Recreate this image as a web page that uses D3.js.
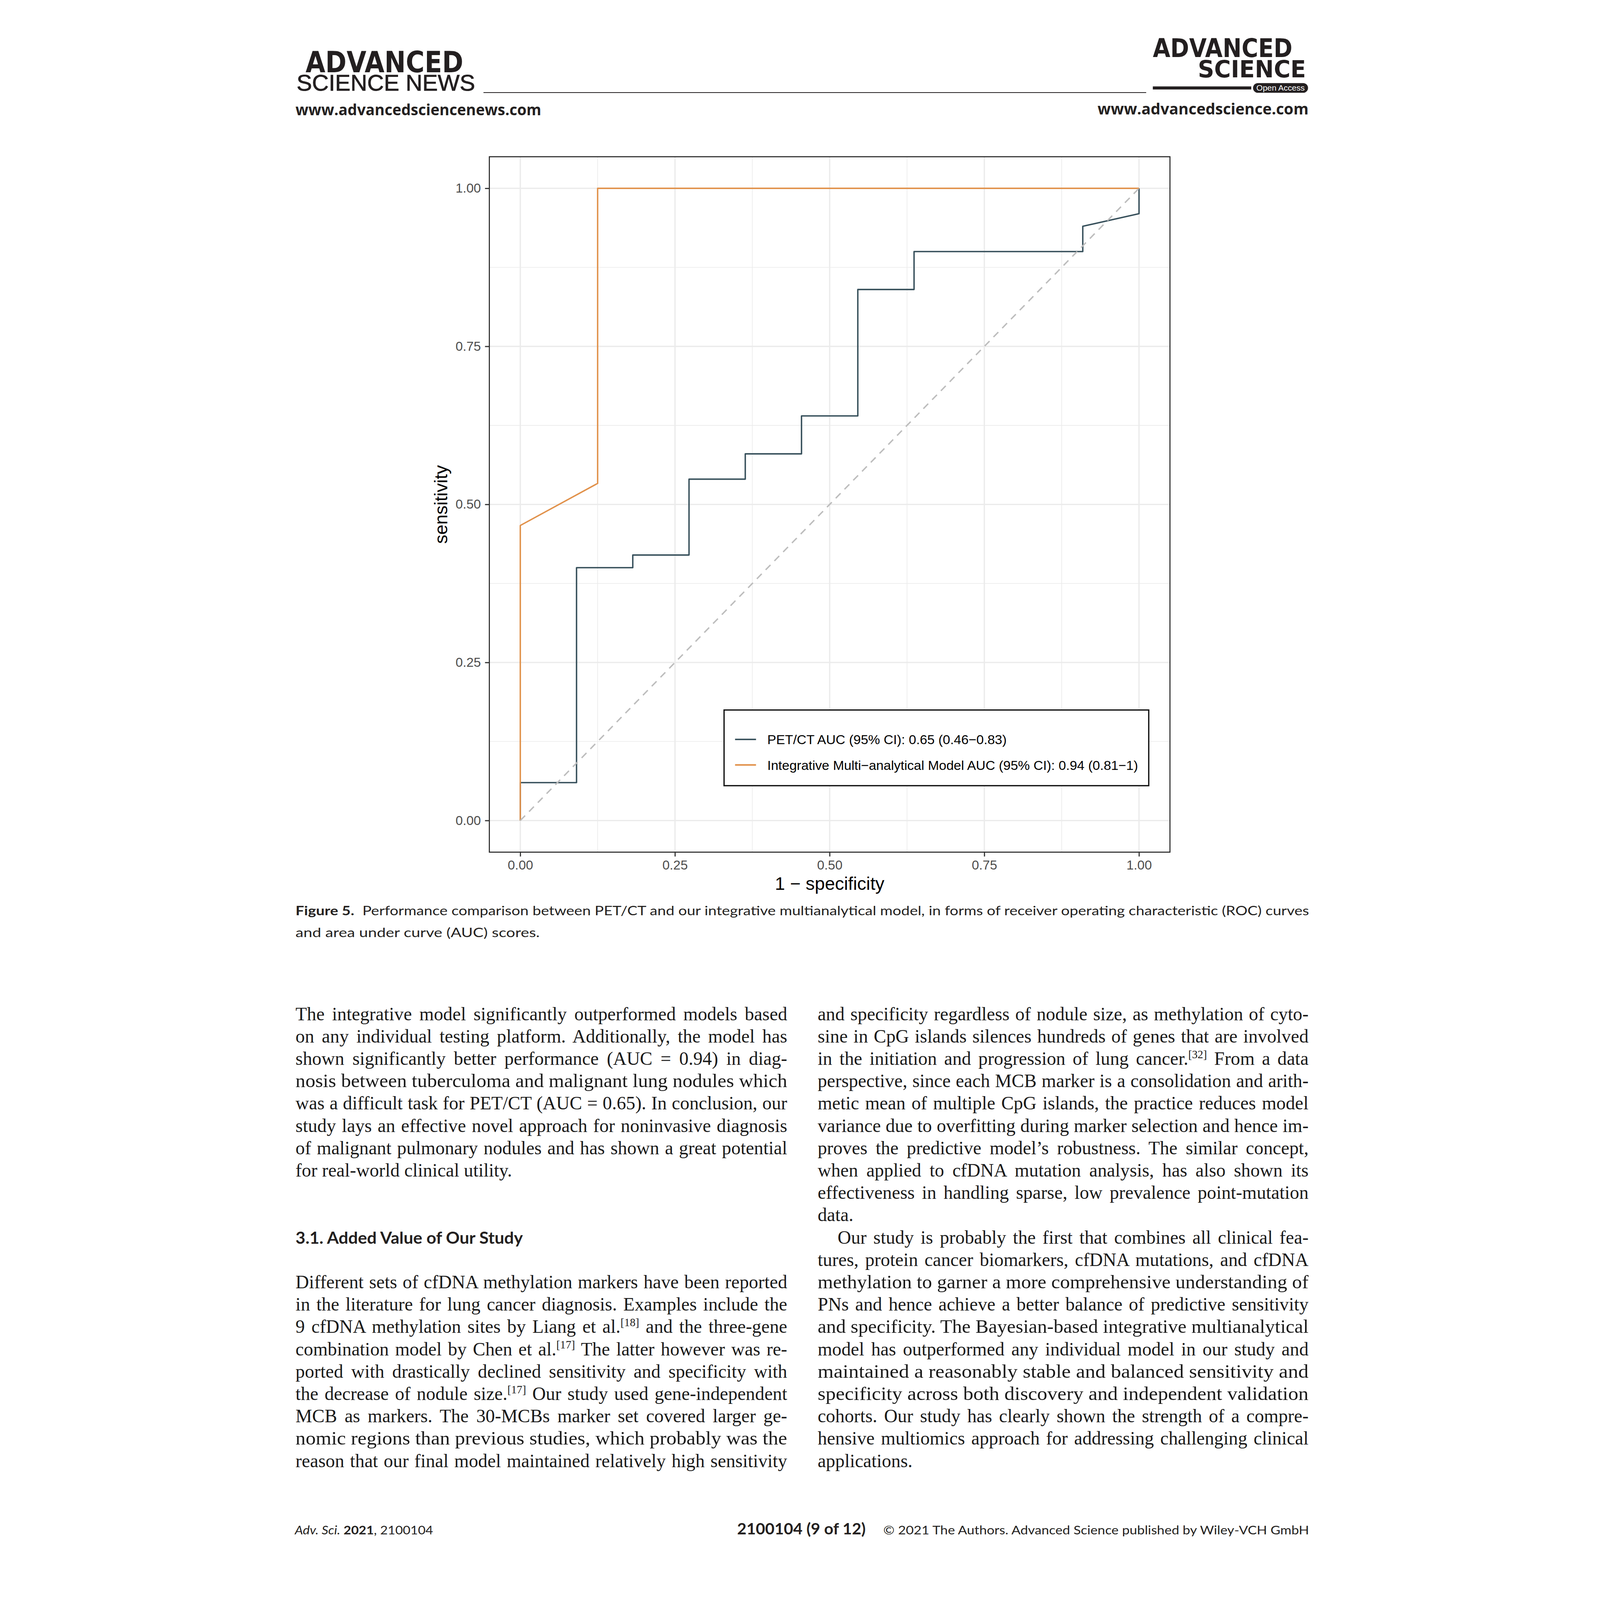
<!DOCTYPE html>
<html><head><meta charset="utf-8">
<script src="https://cdn.jsdelivr.net/npm/d3@7"></script>
<style>html,body{margin:0;padding:0;background:#fff;overflow:hidden;} svg{display:block;width:100vw;height:100vh}</style>
</head><body>
<svg id="page" viewBox="0 0 4762 6258" preserveAspectRatio="xMidYMin meet"></svg>
<script>
// ---------------- DATA ----------------
const seriesNames = ["PET/CT AUC (95% CI): 0.65 (0.46\u22120.83)",
                     "Integrative Multi\u2212analytical Model AUC (95% CI): 0.94 (0.81\u22121)"];
const seriesColors = ["#37505B", "#E1914A"];
const petFpr = [0, 0, 0.0909, 0.0909, 0.1818, 0.1818, 0.2727, 0.2727, 0.3636, 0.3636, 0.4545, 0.4545, 0.5455, 0.5455, 0.6364, 0.6364, 0.9091, 0.9091, 1, 1];
const petTpr = [0, 0.06, 0.06, 0.40, 0.40, 0.42, 0.42, 0.54, 0.54, 0.58, 0.58, 0.64, 0.64, 0.84, 0.84, 0.90, 0.90, 0.94, 0.96, 1];
const modelFpr = [0, 0, 0.125, 0.125, 1];
const modelTpr = [0, 0.4667, 0.5333, 1, 1];
const diagonal = [[0, 0], [1, 1]];
const xTicks = [0, 0.25, 0.5, 0.75, 1];
const yTicks = [0, 0.25, 0.5, 0.75, 1];
const minorBreaks = [0.125, 0.375, 0.625, 0.875];
const xTitle = "1 \u2212 specificity";
const yTitle = "sensitivity";

const captionBold = "Figure 5.";
const captionLine1 = "Performance comparison between PET/CT and our integrative multianalytical model, in forms of receiver operating characteristic (ROC) curves";
const captionLine2 = "and area under curve (AUC) scores.";

const leftColumn = [
  "The integrative model significantly outperformed models based",
  "on any individual testing platform. Additionally, the model has",
  "shown significantly better performance (AUC = 0.94) in diag-",
  "nosis between tuberculoma and malignant lung nodules which",
  "was a difficult task for PET/CT (AUC = 0.65). In conclusion, our",
  "study lays an effective novel approach for noninvasive diagnosis",
  "of malignant pulmonary nodules and has shown a great potential",
  "for real-world clinical utility."
];
const sectionHeading = "3.1. Added Value of Our Study";
const leftColumn2 = [
  "Different sets of cfDNA methylation markers have been reported",
  "in the literature for lung cancer diagnosis. Examples include the",
  "9 cfDNA methylation sites by Liang et al.^[18]^ and the three-gene",
  "combination model by Chen et al.^[17]^ The latter however was re-",
  "ported with drastically declined sensitivity and specificity with",
  "the decrease of nodule size.^[17]^ Our study used gene-independent",
  "MCB as markers. The 30-MCBs marker set covered larger ge-",
  "nomic regions than previous studies, which probably was the",
  "reason that our final model maintained relatively high sensitivity"
];
const rightColumn = [
  "and specificity regardless of nodule size, as methylation of cyto-",
  "sine in CpG islands silences hundreds of genes that are involved",
  "in the initiation and progression of lung cancer.^[32]^ From a data",
  "perspective, since each MCB marker is a consolidation and arith-",
  "metic mean of multiple CpG islands, the practice reduces model",
  "variance due to overfitting during marker selection and hence im-",
  "proves the predictive model\u2019s robustness. The similar concept,",
  "when applied to cfDNA mutation analysis, has also shown its",
  "effectiveness in handling sparse, low prevalence point-mutation",
  "data."
];
const rightColumn2 = [
  "Our study is probably the first that combines all clinical fea-",
  "tures, protein cancer biomarkers, cfDNA mutations, and cfDNA",
  "methylation to garner a more comprehensive understanding of",
  "PNs and hence achieve a better balance of predictive sensitivity",
  "and specificity. The Bayesian-based integrative multianalytical",
  "model has outperformed any individual model in our study and",
  "maintained a reasonably stable and balanced sensitivity and",
  "specificity across both discovery and independent validation",
  "cohorts. Our study has clearly shown the strength of a compre-",
  "hensive multiomics approach for addressing challenging clinical",
  "applications."
];

// ---------------- HELPERS ----------------
const svg = d3.select("#page");
svg.append("rect").attr("width", 4762).attr("height", 6258).attr("fill", "#fff");

function parseSup(str) {
  return str.split("^").map((p, i) => ({t: p, sup: i % 2 === 1})).filter(s => s.t);
}
function rich(parent, segs, xPos, yPos, o) {
  const t = parent.append("text").attr("x", xPos).attr("y", yPos)
    .attr("font-family", o.font).attr("font-size", o.size)
    .attr("fill", o.fill || "#1a1a1a");
  if (o.weight) t.attr("font-weight", o.weight);
  if (o.style) t.attr("font-style", o.style);
  if (o.anchor) t.attr("text-anchor", o.anchor);
  if (o.stroke) t.attr("stroke", o.fill || "#1a1a1a").attr("stroke-width", o.stroke);
  let cur = 0;
  segs.forEach(s => {
    const ts = t.append("tspan").text(s.t);
    const target = s.sup ? -0.36 * o.size : 0;
    if (target !== cur) { ts.attr("dy", target - cur); cur = target; }
    if (s.sup) ts.attr("font-size", o.size * 0.6);
    if (s.weight) ts.attr("font-weight", s.weight);
    if (s.style) ts.attr("font-style", s.style);
    if (s.dx) ts.attr("dx", s.dx);
  });
  if (o.width) {
    const full = segs.map(s => s.t).join("");
    const L = t.node().getComputedTextLength();
    const n = (full.match(/ /g) || []).length;
    const ws = n > 0 ? (o.width - L) / n : 0;
    if (o.justify && n > 0 && ws > -0.08 * o.size && ws < 0.2 * o.size) {
      t.style("word-spacing", ws + "px");
    } else {
      t.attr("textLength", o.width).attr("lengthAdjust", "spacingAndGlyphs");
    }
  }
  return t;
}

// ---------------- HEADER ----------------
const hdr = svg.append("g");
rich(hdr, [{t: "ADVANCED"}], 447, 282, {font: "DejaVu Sans", size: 115, weight: "bold", width: 617, fill: "#231f20"});
rich(hdr, [{t: "SCIENCE NEWS"}], 412, 355, {font: "Liberation Sans", size: 87, width: 698, fill: "#231f20", stroke: 1.5});
hdr.append("line").attr("x1", 1143).attr("x2", 3735).attr("y1", 362).attr("y2", 362)
  .attr("stroke", "#231f20").attr("stroke-width", 3);
rich(hdr, [{t: "www.advancedsciencenews.com"}], 408, 450, {font: "Open Sans", size: 60, weight: "bold", width: 961, fill: "#231f20"});

rich(hdr, [{t: "ADVANCED"}], 3761, 223, {font: "DejaVu Sans", size: 100, weight: "bold", width: 546, fill: "#231f20"});
rich(hdr, [{t: "SCIENCE"}], 3937, 302, {font: "DejaVu Sans", size: 92, weight: "bold", width: 423, fill: "#231f20"});
hdr.append("rect").attr("x", 3761).attr("y", 338).attr("width", 385).attr("height", 12).attr("fill", "#231f20");
hdr.append("rect").attr("x", 4153).attr("y", 325).attr("width", 215).attr("height", 38).attr("rx", 19).attr("fill", "#231f20");
rich(hdr, [{t: "Open Access"}], 4166, 355, {font: "Liberation Sans", size: 30, width: 189, fill: "#fff"});
rich(hdr, [{t: "www.advancedscience.com"}], 3545, 448, {font: "Open Sans", size: 60, weight: "bold", width: 825, fill: "#231f20"});

// ---------------- CHART ----------------
const P = {left: 1166, right: 3828, top: 613, bottom: 3333};
const x = d3.scaleLinear().domain([-0.05, 1.05]).range([P.left, P.right]);
const y = d3.scaleLinear().domain([-0.05, 1.05]).range([P.bottom, P.top]);
const chart = svg.append("g");
chart.append("rect").attr("x", P.left).attr("y", P.top).attr("width", P.right - P.left)
  .attr("height", P.bottom - P.top).attr("fill", "#fff");

const grid = chart.append("g").attr("stroke", "#ebebeb");
grid.selectAll(".vmin").data(minorBreaks).join("line").attr("class", "vmin")
  .attr("x1", d => x(d)).attr("x2", d => x(d)).attr("y1", P.top).attr("y2", P.bottom).attr("stroke-width", 2.5);
grid.selectAll(".hmin").data(minorBreaks).join("line").attr("class", "hmin")
  .attr("y1", d => y(d)).attr("y2", d => y(d)).attr("x1", P.left).attr("x2", P.right).attr("stroke-width", 2.5);
grid.selectAll(".vmaj").data(xTicks).join("line").attr("class", "vmaj")
  .attr("x1", d => x(d)).attr("x2", d => x(d)).attr("y1", P.top).attr("y2", P.bottom).attr("stroke-width", 5);
grid.selectAll(".hmaj").data(yTicks).join("line").attr("class", "hmaj")
  .attr("y1", d => y(d)).attr("y2", d => y(d)).attr("x1", P.left).attr("x2", P.right).attr("stroke-width", 5);

const line = d3.line().x(d => x(d[0])).y(d => y(d[1]));
const series = [d3.zip(petFpr, petTpr), d3.zip(modelFpr, modelTpr)];
chart.selectAll(".roc").data(series).join("path").attr("class", "roc")
  .attr("d", line).attr("fill", "none").attr("stroke", (d, i) => seriesColors[i])
  .attr("stroke-width", 5.5).attr("stroke-linejoin", "round");
chart.append("path").attr("d", line(diagonal)).attr("fill", "none")
  .attr("stroke", "#bdbdbd").attr("stroke-width", 5.5).attr("stroke-dasharray", "27,22");

chart.append("rect").attr("x", P.left).attr("y", P.top).attr("width", P.right - P.left)
  .attr("height", P.bottom - P.top).attr("fill", "none").attr("stroke", "#222").attr("stroke-width", 4);

const axisFont = "Liberation Sans, Arial, Helvetica, sans-serif";
const gx = chart.append("g").attr("transform", `translate(0,${P.bottom})`)
  .call(d3.axisBottom(x).tickValues(xTicks).tickFormat(d3.format(".2f")).tickSize(17).tickPadding(15));
const gy = chart.append("g").attr("transform", `translate(${P.left},0)`)
  .call(d3.axisLeft(y).tickValues(yTicks).tickFormat(d3.format(".2f")).tickSize(17).tickPadding(16));
[gx, gy].forEach(ga => {
  ga.attr("font-size", 51).attr("font-family", axisFont);
  ga.select(".domain").remove();
  ga.selectAll(".tick line").attr("stroke", "#333").attr("stroke-width", 4.5);
  ga.selectAll(".tick text").attr("fill", "#4d4d4d");
});

chart.append("text").attr("x", (P.left + P.right) / 2).attr("y", 3480).attr("text-anchor", "middle")
  .attr("font-family", axisFont).attr("font-size", 71).attr("fill", "#000").text(xTitle);
chart.append("text").attr("transform", `translate(1002,${(P.top + P.bottom) / 2}) rotate(-90)`)
  .attr("text-anchor", "middle").attr("font-family", axisFont).attr("font-size", 71).attr("fill", "#000").text(yTitle);

// legend
const lg = chart.append("g");
lg.append("rect").attr("x", 2084).attr("y", 2777).attr("width", 1661).attr("height", 296)
  .attr("fill", "#fff").attr("stroke", "#111").attr("stroke-width", 5);
const legendRows = [2892, 2992];
lg.selectAll(".key").data(seriesNames).join("line").attr("class", "key")
  .attr("x1", 2127).attr("x2", 2209).attr("y1", (d, i) => legendRows[i]).attr("y2", (d, i) => legendRows[i])
  .attr("stroke", (d, i) => seriesColors[i]).attr("stroke-width", 6);
lg.selectAll(".lt").data(seriesNames).join("text").attr("class", "lt")
  .attr("x", 2253).attr("y", (d, i) => legendRows[i] + 19)
  .attr("font-family", axisFont).attr("font-size", 52).attr("fill", "#000").text(d => d);

// ---------------- CAPTION ----------------
const cap = svg.append("g");
const capFont = "Lato, 'Open Sans', sans-serif";
rich(cap, [{t: captionBold, weight: "bold"}, {t: " " + captionLine1, dx: 14}], 408, 3580,
  {font: capFont, size: 50, width: 3964, justify: true, fill: "#231f20"});
rich(cap, [{t: captionLine2}], 408, 3665, {font: capFont, size: 50, width: 955, fill: "#231f20"});

// ---------------- BODY ----------------
const body = svg.append("g");
const bodyFont = "'Liberation Serif', 'Times New Roman', serif";
const B0 = 3990, PITCH = 87.4, LX = 408, LW = 1923, RX = 2450, RW = 1920, BS = 73;
leftColumn.forEach((s, i) => {
  rich(body, parseSup(s), LX, B0 + i * PITCH, {font: bodyFont, size: BS,
    width: i === leftColumn.length - 1 ? null : LW, justify: true});
});
rich(body, [{t: sectionHeading}], LX, B0 + 10 * PITCH, {font: capFont, size: 63, weight: "bold", width: 889, fill: "#231f20"});
leftColumn2.forEach((s, i) => {
  rich(body, parseSup(s), LX, B0 + (12 + i) * PITCH, {font: bodyFont, size: BS, width: LW, justify: true});
});
rightColumn.forEach((s, i) => {
  rich(body, parseSup(s), RX, B0 + i * PITCH, {font: bodyFont, size: BS,
    width: i === rightColumn.length - 1 ? null : RW, justify: true});
});
rightColumn2.forEach((s, i) => {
  const indent = i === 0 ? 78 : 0;
  rich(body, parseSup(s), RX + indent, B0 + (10 + i) * PITCH, {font: bodyFont, size: BS,
    width: i === rightColumn2.length - 1 ? null : RW - indent, justify: true});
});

// ---------------- FOOTER ----------------
const ft = svg.append("g");
rich(ft, [{t: "Adv. Sci.", style: "italic"}, {t: " "}, {t: "2021", weight: "bold"}, {t: ", 2100104"}], 405, 6002,
  {font: capFont, size: 48, width: 541, fill: "#231f20"});
rich(ft, [{t: "2100104 (9 of 12)"}], 2135, 6002, {font: capFont, size: 62, weight: "bold", width: 503, fill: "#231f20"});
rich(ft, [{t: "\u00a9 2021 The Authors. Advanced Science published by Wiley-VCH GmbH"}], 2707, 6002,
  {font: capFont, size: 48, width: 1665, fill: "#231f20"});
</script>
</body></html>
